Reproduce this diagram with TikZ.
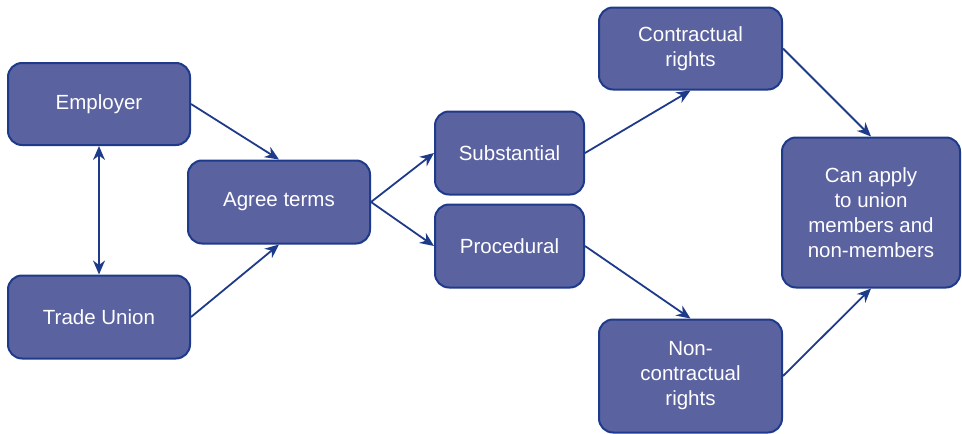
\documentclass[tikz,border=0pt]{standalone}
\usepackage{fontspec}
\setmainfont{Liberation Sans}
\usetikzlibrary{arrows.meta}
\definecolor{boxfill}{HTML}{5B62A0}
\definecolor{boxline}{HTML}{1E3A8A}
\begin{document}
\begin{tikzpicture}[x=1pt,y=-1pt,
  box/.style={draw=boxline, line width=2pt, fill=boxfill, rounded corners=14pt,
    text=white, align=center, inner sep=0pt, font=\fontsize{20.5}{25}\selectfont},
  link/.style={draw=boxline, line width=1.8pt,
    -{Stealth[length=14pt,width=12pt,inset=4.5pt]}},
  both/.style={draw=boxline, line width=1.8pt,
    {Stealth[length=14pt,width=12pt,inset=4.5pt]}-{Stealth[length=14pt,width=12pt,inset=4.5pt]}}]
\useasboundingbox (0,0) rectangle (962,434);
% boxes
\node[box, minimum width=182pt, minimum height=82pt] (emp) at (99,104) {Employer};
\node[box, minimum width=182pt, minimum height=83pt] (tu) at (99,317) {Trade Union};
\node[box, minimum width=182pt, minimum height=83pt] (agree) at (279,202) {Agree terms};
\node[box, minimum width=149pt, minimum height=83pt] (sub) at (509.5,153) {Substantial};
\node[box, minimum width=149pt, minimum height=83pt] (proc) at (509.5,246) {Procedural};
\node[box, minimum width=183pt, minimum height=82pt] (con) at (690.5,48.5) {Contractual\\rights};
\node[box, minimum width=183pt, minimum height=113pt] (non) at (690.5,376) {Non-\\contractual\\rights};
\node[box, minimum width=178pt, minimum height=150pt] (app) at (871,212.5) {Can apply\\to union\\members and\\non-members};
% connectors
\draw[both] (emp.south) -- (tu.north);
\draw[link] (emp.east) -- (agree.north);
\draw[link] (tu.east) -- (agree.south);
\draw[link] (agree.east) -- (sub.west);
\draw[link] (agree.east) -- (proc.west);
\draw[link] (sub.east) -- (con.south);
\draw[link] (proc.east) -- (non.north);
\draw[link] (con.east) -- (app.north);
\draw[link] (non.east) -- (app.south);
\end{tikzpicture}
\end{document}
